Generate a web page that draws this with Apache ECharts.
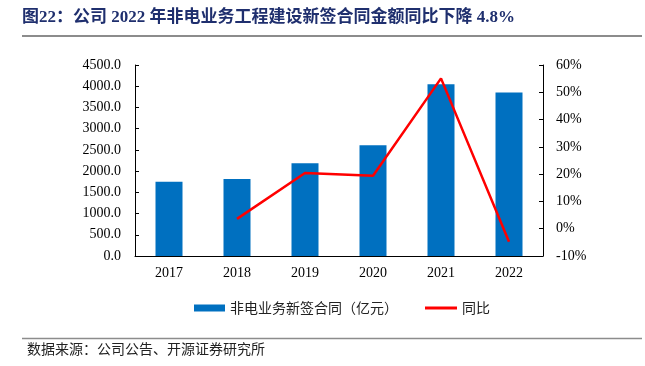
<!DOCTYPE html>
<html><head><meta charset="utf-8">
<script src="https://cdn.jsdelivr.net/npm/echarts@6/dist/echarts.min.js"></script>
<style>html,body{margin:0;padding:0;background:#fff}#c{width:645px;height:366px}</style>
</head><body><div id="c"></div>
<script>
const categories = ['2017','2018','2019','2020','2021','2022'];
const contractValues = [1751, 1814, 2184, 2608, 4045, 3850];
const yoyValues = [null, 3.6, 20.4, 19.4, 55.1, -4.8];
const barName = '非电业务新签合同（亿元）';
const lineName = '同比';
const titleText = '图22：公司 2022 年非电业务工程建设新签合同金额同比下降 4.8%';
const sourceText = '数据来源：公司公告、开源证券研究所';

const serif = '"Liberation Serif","Noto Sans CJK SC",serif';
const cjk = '"Noto Sans CJK SC",sans-serif';
const chart = echarts.init(document.getElementById('c'));
chart.setOption({
  animation: false,
  graphic: [
    {type:'text', left:22, top:9, style:{text:titleText, font:'bold 17px '+serif, fill:'#1f2f6e'}},
    {type:'line', shape:{x1:22,y1:36,x2:642,y2:36}, style:{stroke:'#8c8c8c', lineWidth:2}},
    {type:'line', shape:{x1:22,y1:338.5,x2:642,y2:338.5}, style:{stroke:'#8c8c8c', lineWidth:1.5}},
    {type:'text', left:27, top:342, style:{text:sourceText, font:'14px '+cjk, fill:'#222'}}
  ],
  legend: [
    {data:[barName], left:189, top:296, itemWidth:31, itemHeight:7, icon:'rect', itemGap:4,
     textStyle:{fontFamily:cjk, fontSize:14, color:'#222', padding:[0,0,0,0]}},
    {data:[lineName], left:420, top:296, itemWidth:32, itemHeight:3, icon:'rect', itemGap:4,
     textStyle:{fontFamily:cjk, fontSize:14, color:'#222'}}
  ],
  grid: {left:135, right:102, top:65, bottom:110},
  xAxis: {
    type:'category', data:categories,
    axisLine:{lineStyle:{color:'#000'}},
    axisTick:{inside:true, length:4, lineStyle:{color:'#000'}},
    axisLabel:{fontFamily:serif, fontSize:14, color:'#000', margin:10}
  },
  yAxis: [
    {type:'value', min:0, max:4500, interval:500,
     axisLine:{show:true, lineStyle:{color:'#000'}},
     axisTick:{show:true, inside:true, length:4, lineStyle:{color:'#000'}},
     splitLine:{show:false},
     axisLabel:{formatter:v=>v.toFixed(1), fontFamily:serif, fontSize:14, color:'#000', margin:14}},
    {type:'value', min:-10, max:60, interval:10, position:'right',
     axisLine:{show:true, lineStyle:{color:'#000'}},
     axisTick:{show:true, inside:true, length:4, lineStyle:{color:'#000'}},
     splitLine:{show:false},
     axisLabel:{formatter:'{value}%', fontFamily:serif, fontSize:14, color:'#000', margin:13}}
  ],
  series: [
    {name:barName, type:'bar', data:contractValues, barWidth:27, itemStyle:{color:'#0070c0'}},
    {name:lineName, type:'line', yAxisIndex:1, data:yoyValues, showSymbol:false, symbol:'none',
     lineStyle:{color:'#ff0000', width:2.5}, itemStyle:{color:'#ff0000'}}
  ]
});
</script></body></html>
